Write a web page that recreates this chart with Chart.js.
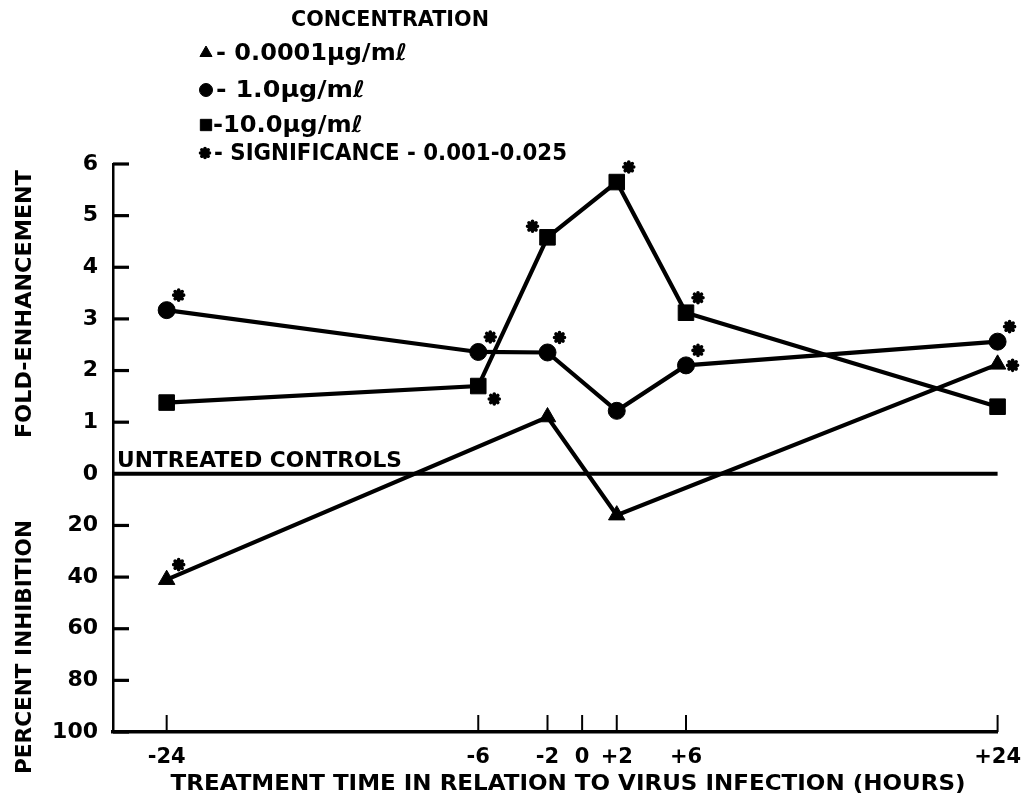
<!DOCTYPE html>
<html>
<head>
<meta charset="utf-8">
<script src="https://cdn.jsdelivr.net/npm/chart.js@4/dist/chart.umd.min.js"></script>
<style>
  html, body { margin: 0; padding: 0; background: #fff; }
  canvas { display: block; }
</style>
</head>
<body>
<canvas id="chart" width="1034" height="806"></canvas>
<script>
// Treatment times (hours relative to virus infection)
const hoursTicks = [-24, -6, -2, 0, 2, 6, 24];
const hoursLowDose = [-24, -2, 2, 24];
const hoursDose = [-24, -6, -2, 2, 6, 24];

// 0.0001 ug/ml: fold-enhancement where above control, percent inhibition where below
const lowDoseFold = [null, 1.1, null, 2.12];
const lowDoseInhibition = [41, null, 16, null];
const lowDoseSignificant = [true, false, false, true];

// 1.0 ug/ml fold-enhancement
const midDoseFold = [3.17, 2.36, 2.35, 1.22, 2.1, 2.56];
const midDoseSignificant = [true, true, true, false, true, true];

// 10.0 ug/ml fold-enhancement
const highDoseFold = [1.38, 1.7, 4.58, 5.65, 3.12, 1.3];
const highDoseSignificant = [false, true, true, true, true, false];

// Left axis: 0..6 fold-enhancement, then 20..100 percent inhibition below the control line
const foldTicks = [1, 2, 3, 4, 5, 6];
const inhibitionTicks = [20, 40, 60, 80, 100];
const INHIBITION_PER_UNIT = 20;

const toAxis = (fold, inhib) => fold != null ? fold : -inhib / INHIBITION_PER_UNIT;
const axisToLabel = v => v >= 0 ? String(v) : String(Math.round(-v * INHIBITION_PER_UNIT));

const FONT = '"DejaVu Sans", "Liberation Sans", sans-serif';

function series(hours, fold, inhib) {
  return hours.map((h, i) => ({ x: h, y: toAxis(fold[i], inhib ? inhib[i] : null) }));
}

const datasets = [
  {
    label: '0.0001\u03bcg/m\u2113',
    data: series(hoursLowDose, lowDoseFold, lowDoseInhibition),
    significant: lowDoseSignificant,
    pointStyle: 'triangle', pointRadius: 9.5, legendRadius: 7
  },
  {
    label: '1.0\u03bcg/m\u2113',
    data: series(hoursDose, midDoseFold, null),
    significant: midDoseSignificant,
    pointStyle: 'circle', pointRadius: 8.5, legendRadius: 6.5
  },
  {
    label: '10.0\u03bcg/m\u2113',
    data: series(hoursDose, highDoseFold, null),
    significant: highDoseSignificant,
    pointStyle: 'rect', pointRadius: 11, legendRadius: 8
  }
].map(d => Object.assign({
  borderColor: '#000',
  backgroundColor: '#000',
  pointBackgroundColor: '#000',
  pointBorderColor: '#000',
  borderWidth: 4.2,
  pointBorderWidth: 1,
  tension: 0,
  clip: false
}, d));

// Draws text squeezed/stretched horizontally to a given length
function fitText(ctx, text, cx, cy, length, size, weight, rotate) {
  ctx.save();
  ctx.font = `${weight} ${size}px ${FONT}`;
  const w = ctx.measureText(text).width;
  ctx.translate(cx, cy);
  if (rotate) ctx.rotate(-Math.PI / 2);
  ctx.scale(length / w, 1);
  ctx.textAlign = 'center';
  ctx.textBaseline = 'middle';
  ctx.fillStyle = '#000';
  ctx.fillText(text, 0, 0);
  ctx.restore();
}

function leftText(ctx, text, x, cy, right, size, weight) {
  ctx.save();
  ctx.font = `${weight} ${size}px ${FONT}`;
  const w = ctx.measureText(text).width;
  ctx.translate(x, cy);
  ctx.scale((right - x) / w, 1);
  ctx.textAlign = 'left';
  ctx.textBaseline = 'middle';
  ctx.fillStyle = '#000';
  ctx.fillText(text, 0, 0);
  ctx.restore();
}

// Significance asterisk
function star(ctx, x, y, r) {
  ctx.save();
  ctx.strokeStyle = '#000';
  ctx.lineWidth = 3.6;
  ctx.lineCap = 'round';
  Chart.helpers.drawPoint(ctx, { pointStyle: 'star', radius: r, rotation: 0, borderWidth: 3.6 }, x, y);
  ctx.restore();
}

const annotations = {
  id: 'annotations',
  beforeDatasetsDraw(chart) {
    const { ctx, chartArea: a, scales: { x, y } } = chart;
    // untreated control line
    const y0 = y.getPixelForValue(0);
    ctx.save();
    ctx.strokeStyle = '#000';
    ctx.lineWidth = 4;
    ctx.beginPath();
    ctx.moveTo(a.left, y0);
    ctx.lineTo(a.right, y0);
    ctx.stroke();

    // inward tick marks
    ctx.lineWidth = 3.2;
    y.ticks.forEach(t => {
      if (t.value === 0) return;
      const py = y.getPixelForValue(t.value);
      ctx.beginPath();
      ctx.moveTo(a.left, py);
      ctx.lineTo(a.left + 16, py);
      ctx.stroke();
    });
    ctx.lineWidth = 2;
    x.ticks.forEach(t => {
      const px = x.getPixelForValue(t.value);
      ctx.beginPath();
      ctx.moveTo(px, a.bottom);
      ctx.lineTo(px, a.bottom - 17);
      ctx.stroke();
    });
    ctx.restore();
  },
  afterDatasetsDraw(chart, args, opts) {
    const { ctx } = chart;
    // significance marks beside points
    chart.data.datasets.forEach((ds, di) => {
      const meta = chart.getDatasetMeta(di);
      ds.significant.forEach((sig, i) => {
        if (!sig) return;
        const el = meta.data[i];
        const place = (opts.placement[di] && opts.placement[di][i]) || 'ne';
        const off = opts.offsets[place];
        star(ctx, el.x + off[0], el.y + off[1], 5);
      });
    });
  },
  afterDraw(chart) {
    const { ctx, chartArea: a, scales: { y } } = chart;
    const y0 = y.getPixelForValue(0);

    leftText(ctx, 'UNTREATED CONTROLS', a.left + 4, y0 - 13, 402, 22, 'bold');

    // axis titles
    fitText(ctx, 'FOLD-ENHANCEMENT', 25, 304, 268, 22, 'bold', true);
    fitText(ctx, 'PERCENT INHIBITION', 25, 647, 254, 22, 'bold', true);
    fitText(ctx, 'TREATMENT TIME IN RELATION TO VIRUS INFECTION (HOURS)', 568, 784, 795, 22, 'bold', false);

    // key
    fitText(ctx, 'CONCENTRATION', 390, 21, 198, 21, 'bold', false);
    const rows = [53, 90, 125];
    chart.data.datasets.forEach((ds, i) => {
      ctx.save();
      ctx.fillStyle = '#000';
      ctx.strokeStyle = '#000';
      Chart.helpers.drawPoint(ctx, { pointStyle: ds.pointStyle, radius: ds.legendRadius, rotation: 0, borderWidth: 1 }, 206, rows[i]);
      ctx.restore();
    });
    leftText(ctx, '- 0.0001\u03bcg/m\u2113', 216, 54, 407, 23, 'bold');
    leftText(ctx, '- 1.0\u03bcg/m\u2113', 216, 91, 365, 23, 'bold');
    leftText(ctx, '-10.0\u03bcg/m\u2113', 213, 126, 363, 23, 'bold');
    star(ctx, 205, 153, 4.5);
    leftText(ctx, '- SIGNIFICANCE - 0.001-0.025', 214, 154, 567, 23, 'bold');
  }
};

new Chart(document.getElementById('chart'), {
  type: 'line',
  data: { datasets },
  options: {
    responsive: false,
    animation: false,
    devicePixelRatio: 1,
    layout: { padding: { top: 164, right: 31, left: 0, bottom: 0 } },
    plugins: {
      legend: { display: false },
      tooltip: { enabled: false },
      annotations: {
        placement: { 0: { 3: 'e' }, 2: { 1: 'se', 2: 'nw' } },
        offsets: { ne: [12, -15], se: [16, 13], nw: [-15, -11], e: [15, 1] }
      }
    },
    scales: {
      x: {
        type: 'linear',
        min: -27.1,
        max: 24,
        afterBuildTicks: s => { s.ticks = hoursTicks.map(v => ({ value: v })); },
        afterFit: s => { s.height = 74; },
        grid: { display: false, drawTicks: false },
        border: { display: true, color: '#000', width: 3.5 },
        ticks: {
          autoSkip: false,
          maxRotation: 0,
          padding: 13,
          color: '#000',
          font: { family: FONT, size: 21, weight: 'bold' },
          callback: v => v > 0 ? '+' + v : String(v)
        }
      },
      y: {
        type: 'linear',
        min: -5,
        max: 6,
        afterBuildTicks: s => {
          s.ticks = inhibitionTicks.slice().reverse().map(p => ({ value: -p / INHIBITION_PER_UNIT }))
            .concat([{ value: 0 }], foldTicks.map(f => ({ value: f })));
        },
        afterFit: s => { s.width = 113; },
        grid: { display: false, drawTicks: false },
        border: { display: true, color: '#000', width: 2.5 },
        ticks: {
          padding: 15,
          color: '#000',
          font: { family: FONT, size: 22, weight: 'bold' },
          callback: v => axisToLabel(v)
        }
      }
    }
  },
  plugins: [annotations]
});
</script>
</body>
</html>
